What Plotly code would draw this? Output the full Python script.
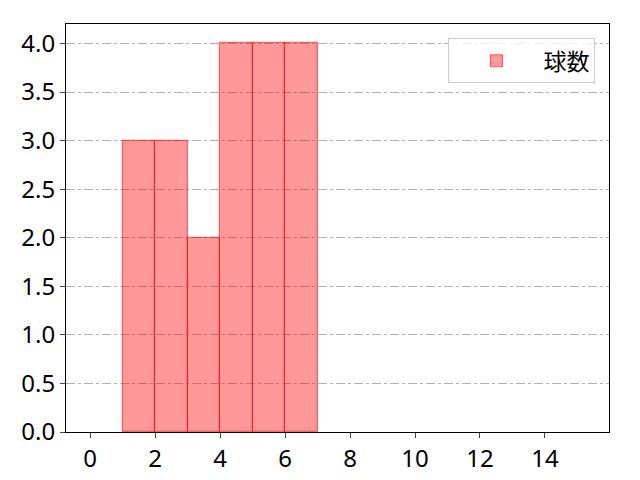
import plotly.graph_objects as go

bin_left = [1, 2, 3, 4, 5, 6]
counts = [3, 3, 2, 4, 4, 4]
x_ticks = [0, 2, 4, 6, 8, 10, 12, 14]
y_ticks = [0.0, 0.5, 1.0, 1.5, 2.0, 2.5, 3.0, 3.5, 4.0]

centers = [b + 0.5 for b in bin_left]

fig = go.Figure()
fig.add_trace(go.Bar(
    x=centers, y=counts, width=1, name="球数",
    marker=dict(color="rgba(255,0,0,0.4)",
                line=dict(color="rgba(255,0,0,0.55)", width=1.2)),
))

font = "Noto Sans, Noto Sans CJK JP, sans-serif"
# page body has an 8px margin, so offsets are shifted by that
fig.update_layout(
    width=640, height=480,
    margin=dict(l=58, r=39, t=16, b=56),
    plot_bgcolor="white", paper_bgcolor="white",
    font=dict(family=font, size=24, color="black"),
    bargap=0,
    showlegend=True,
    legend=dict(x=0.975, y=0.965, xanchor="right", yanchor="top",
                bgcolor="rgba(255,255,255,0.8)", bordercolor="#cccccc",
                borderwidth=1, itemwidth=84, font=dict(size=23)),
)
fig.update_xaxes(range=[-0.74, 15.97], tickvals=x_ticks, ticks="outside",
                 ticklen=5, showline=True, linecolor="black", mirror=True,
                 showgrid=False, zeroline=False)
fig.update_yaxes(range=[0, 4.2], tickvals=y_ticks, tickformat=".1f",
                 ticks="outside", ticklen=5, showline=True, linecolor="black",
                 mirror=True, showgrid=True, gridcolor="#b0b0b0",
                 griddash="dashdot", gridwidth=1, zeroline=False)

fig.write_html("out.html")
